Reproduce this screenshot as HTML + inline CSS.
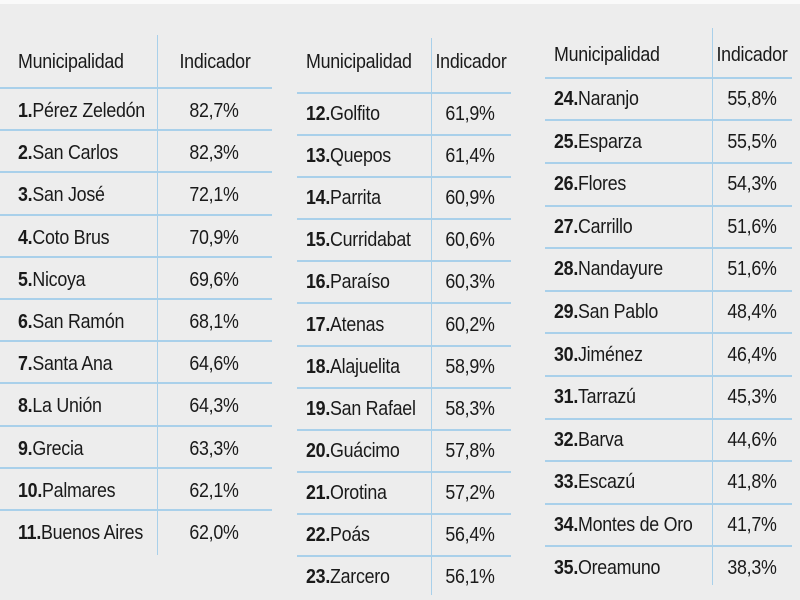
<!DOCTYPE html>
<html><head><meta charset="utf-8">
<style>
body{margin:0;width:800px;height:600px;overflow:hidden;background:#ededed;font-family:"Liberation Sans",sans-serif;color:#1a1a1a}
#wrap{position:relative;width:800px;height:600px;background:linear-gradient(#fafafa 0,#fafafa 4px,#ededed 4px)}
.t{position:absolute;font-size:20.5px;white-space:nowrap;transform:translateY(-50%) scaleX(0.87);transform-origin:0 50%;letter-spacing:-0.3px}
.c{transform:translate(-50%,-50%) scaleX(0.87);transform-origin:50% 50%}
.h{font-size:20.5px}
.n{font-weight:bold}
.hl{position:absolute;height:2px;background:#a9d0ea}
.vl{position:absolute;width:1px;background:#a9d0ea}
</style></head>
<body>
<div id="wrap"></div>
<script>
const names1=["Pérez Zeledón","San Carlos","San José","Coto Brus","Nicoya","San Ramón","Santa Ana","La Unión","Grecia","Palmares","Buenos Aires"];
const vals1=["82,7%","82,3%","72,1%","70,9%","69,6%","68,1%","64,6%","64,3%","63,3%","62,1%","62,0%"];
const names2=["Golfito","Quepos","Parrita","Curridabat","Paraíso","Atenas","Alajuelita","San Rafael","Guácimo","Orotina","Poás","Zarcero"];
const vals2=["61,9%","61,4%","60,9%","60,6%","60,3%","60,2%","58,9%","58,3%","57,8%","57,2%","56,4%","56,1%"];
const names3=["Naranjo","Esparza","Flores","Carrillo","Nandayure","San Pablo","Jiménez","Tarrazú","Barva","Escazú","Montes de Oro","Oreamuno"];
const vals3=["55,8%","55,5%","54,3%","51,6%","51,6%","48,4%","46,4%","45,3%","44,6%","41,8%","41,7%","38,3%"];
const tables=[
 {names:names1,vals:vals1,start:1,x0:0,x1:272,div:157,nameX:18,valX:214,hy:62,r0:111,p:42.2,vTop:35,vBot:555},
 {names:names2,vals:vals2,start:12,x0:297,x1:511,div:431,nameX:306,valX:470,hy:62,r0:114,p:42.1,vTop:38,vBot:595},
 {names:names3,vals:vals3,start:24,x0:545,x1:792,div:712,nameX:554,valX:752,hy:55,r0:99,p:42.6,vTop:28,vBot:585}
];
const w=document.getElementById('wrap');
function add(cls,txt,x,y){const d=document.createElement('div');d.className=cls;d.style.left=x+'px';d.style.top=y+'px';d.innerHTML=txt;w.appendChild(d);return d;}
tables.forEach((T,ti)=>{
 const v=document.createElement('div');v.className='vl';v.style.left=T.div+'px';v.style.top=T.vTop+'px';v.style.height=(T.vBot-T.vTop)+'px';
 
 
 w.appendChild(v);
 let h1=add('t h','Municipalidad',T.nameX,T.hy);
 
 
 let h2=add('t h c','Indicador',(T.div+T.x1)/2,T.hy);
 
 
 T.names.forEach((nm,i)=>{
  const y=T.r0+T.p*i;
  const l=document.createElement('div');l.className='hl';l.style.left=T.x0+'px';l.style.width=(T.x1-T.x0)+'px';l.style.top=(y-T.p/2-1+(ti==0?-2:0))+'px';
  
  
  w.appendChild(l);
  let a=add('t','<span class="n">'+(T.start+i)+'.</span>'+nm,T.nameX,y);
  
  
  let b=add('t c',T.vals[i],T.valX,y);
  
  
 });
});
</script>
</body></html>
